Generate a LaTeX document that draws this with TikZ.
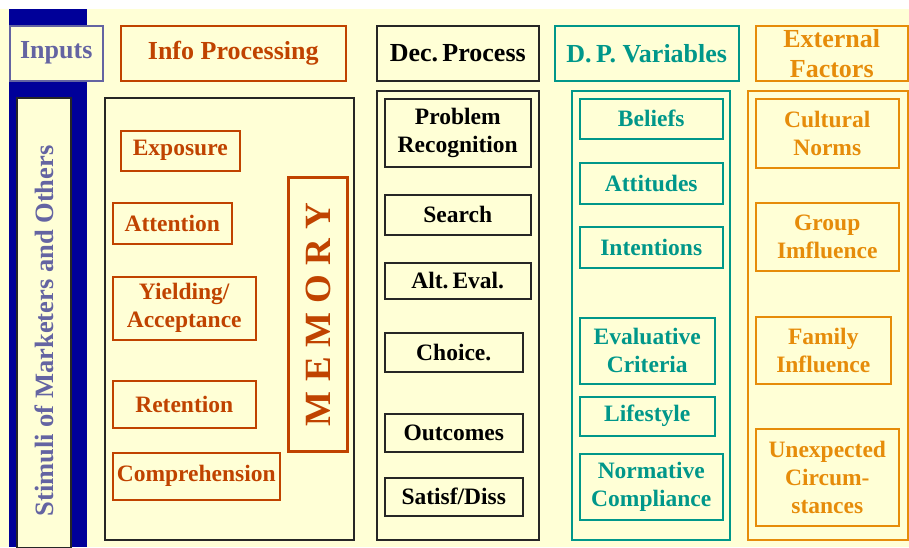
\documentclass[tikz,border=0pt]{standalone}
\usepackage{fontspec}
\setmainfont{Liberation Serif}

\definecolor{paper}{HTML}{FFFFD6}
\definecolor{navy}{HTML}{000099}
\definecolor{slate}{HTML}{6464A2}
\definecolor{rust}{HTML}{C04300}
\definecolor{teal}{HTML}{00978A}
\definecolor{amber}{HTML}{E68C0A}

\newcommand\hdfont{\fontsize{26}{30}\selectfont\bfseries}
\newcommand\bxfont{\fontsize{23.5}{28}\selectfont\bfseries}

\begin{document}
\begin{tikzpicture}[x=1pt, y=-1pt,
  % every box is placed by its top left corner, size in px
  wh/.style n args={2}{minimum width=#1pt, minimum height=#2pt, anchor=north west},
  box/.style={draw, fill=paper, line width=1.5pt, inner sep=0pt, align=center, font=\bxfont},
  hd/.style={box, font=\hdfont},
  frame/.style={draw=black!85, line width=1.6pt, inner sep=0pt},
  ip/.style={box, draw=rust, text=rust},
  dec/.style={box, draw=black!85, text=black},
  dpv/.style={box, draw=teal, text=teal},
  ext/.style={box, draw=amber, text=amber}]
  \useasboundingbox (0,0) rectangle (909,547);
  \fill[white] (0,0) rectangle (909,547);
  \fill[paper] (0,9) rectangle (909,547);
  \fill[navy] (9,9) rectangle (87,547);

  % column heads
  \node[hd, draw=slate, text=slate, wh={93}{55}] (inputs) at (9,25) {Inputs};
  \node[hd, draw=rust, text=rust, wh={225}{55}] (infohd) at (120,25) {Info Processing};
  \node[hd, draw=black!85, wh={162}{55}] (dechd) at (376,25) {Dec.\,Process};
  \node[hd, draw=teal, text=teal, wh={184}{55}] (dphd) at (554,25) {D.\,P.\ Variables};
  \node[hd, draw=amber, text=amber, wh={152}{55}] (exthd) at (755,25) {External\\Factors};

  % column frames
  \node[frame, fill=paper, line width=2pt, wh={54}{450}] (stimuli) at (16,97) {};
  \node[rotate=90, text=slate, font=\fontsize{26.5}{30}\selectfont\bfseries] (stimtxt)
    at ([yshift=-8pt]stimuli.center) {Stimuli of Marketers and Others};
  \node[frame, wh={249}{442}] (infobox) at (104,97) {};
  \node[frame, wh={162}{449}] (decbox) at (376,90) {};
  \node[frame, draw=teal, wh={158}{449}] (dpbox) at (571,90) {};
  \node[frame, draw=amber, wh={160}{449}] (extbox) at (747,90) {};

  % information processing
  \node[ip, wh={119}{40}] (exposure) at (120,130) {Exposure};
  \node[ip, wh={119}{41}] (attention) at (112,202) {Attention};
  \node[ip, wh={143}{63}] (yielding) at (112,276) {Yielding/\\Acceptance};
  \node[ip, wh={143}{47}] (retention) at (112,380) {Retention};
  \node[ip, wh={167}{47}] (compr) at (112,452) {Comprehension};
  \node[ip, line width=3pt, wh={59}{274}] (memory) at (287,176) {};
  \node[rotate=90, text=rust, font=\fontsize{37}{40}\selectfont\bfseries] (memtxt)
    at (memory.center) {M E M O R Y};

  % decision process
  \node[dec, wh={146}{68}] (probrec) at (384,98) {Problem\\Recognition};
  \node[dec, wh={146}{40}] (search) at (384,194) {Search};
  \node[dec, wh={146}{36}] (alteval) at (384,262) {Alt.\,Eval.};
  \node[dec, wh={138}{39}] (choice) at (384,332) {Choice.};
  \node[dec, wh={138}{38}] (outcomes) at (384,413) {Outcomes};
  \node[dec, wh={138}{38}] (satisf) at (384,477) {Satisf/Diss};

  % decision process variables
  \node[dpv, wh={143}{40}] (beliefs) at (579,98) {Beliefs};
  \node[dpv, wh={143}{41}] (attitudes) at (579,162) {Attitudes};
  \node[dpv, wh={143}{41}] (intentions) at (579,226) {Intentions};
  \node[dpv, wh={135}{66}] (evalcrit) at (579,317) {Evaluative\\Criteria};
  \node[dpv, wh={135}{39}] (lifestyle) at (579,396) {Lifestyle};
  \node[dpv, wh={143}{66}] (normcomp) at (579,453) {Normative\\Compliance};

  % external factors
  \node[ext, wh={143}{69}] (cultural) at (755,98) {Cultural\\Norms};
  \node[ext, wh={143}{68}] (group) at (755,202) {Group\\Imfluence};
  \node[ext, wh={135}{67}] (family) at (755,316) {Family\\Influence};
  \node[ext, wh={143}{97}] (unexp) at (755,428) {Unexpected\\Circum-\\stances};
\end{tikzpicture}
\end{document}
